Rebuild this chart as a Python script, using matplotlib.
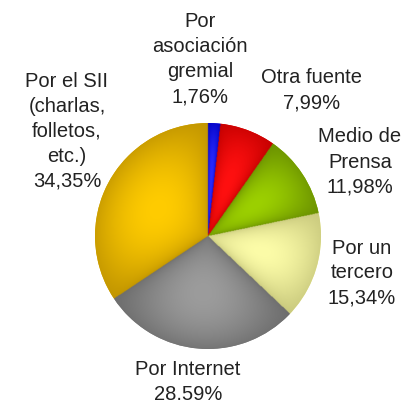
import matplotlib
matplotlib.use("Agg")
import matplotlib.pyplot as plt
import matplotlib.colors as mcolors
import numpy as np

# ── Data ─────────────────────────────────────────────────────────────────────
labels = ["Por\nasociación\ngremial", "Otra fuente", "Medio de\nPrensa",
          "Por un\ntercero", "Por Internet", "Por el SII\n(charlas,\nfolletos,\netc.)"]
pct_text = ["1,76%", "7,99%", "11,98%", "15,34%", "28.59%", "34,35%"]
values = [1.76, 7.99, 11.98, 15.34, 28.59, 34.35]
colors = ["#1616e8", "#e80000", "#8cbc00", "#eeee96", "#8a8a8a", "#dcac00"]
# highlight / edge tones for the shaded look
peak = ["#2a2aff", "#ff1010", "#9cd000", "#fcfca8", "#9c9c9c", "#ffcc00"]
edge = ["#0000c0", "#c40000", "#6a9000", "#c8c87c", "#6c6c6c", "#c09400"]

# label anchor positions (figure pixels, y measured from top)
label_pos = [(200, 59), (312, 90), (360, 162), (362, 273), (188, 382), (67, 131)]

W, H = 406, 405
CX, CY, R = 208, H - 236, 113

fig = plt.figure(figsize=(W / 100, H / 100), dpi=100)
ax = fig.add_axes([0, 0, 1, 1])

wedges, _ = ax.pie(values, colors=colors, startangle=90, counterclock=False,
                   center=(CX, CY), radius=R, frame=True,
                   wedgeprops={"linewidth": 0})

# ── shading overlay ──────────────────────────────────────────────────────────
n = 400
xs = np.linspace(CX - R, CX + R, n)
ys = np.linspace(CY - R, CY + R, n)
X, Y = np.meshgrid(xs, ys)
dx, dy = X - CX, Y - CY
rr = np.hypot(dx, dy) / R
theta = (90 - np.degrees(np.arctan2(dy, dx))) % 360
bounds = np.concatenate([[0], np.cumsum(values) / np.sum(values) * 360])
idx = np.clip(np.searchsorted(bounds, theta, side="right") - 1, 0, len(values) - 1)
t = (theta - bounds[idx]) / (bounds[idx + 1] - bounds[idx])
g = np.sqrt(np.clip(np.sin(np.pi * t), 0, 1)) * (1 - 0.8 * ((rr - 0.5) / 0.5) ** 2)
g = np.clip(g, 0, 1)
pk = np.array([mcolors.to_rgb(c) for c in peak])
ed = np.array([mcolors.to_rgb(c) for c in edge])
img = ed[idx] + (pk[idx] - ed[idx]) * g[..., None]
im = ax.imshow(img, origin="lower", extent=(CX - R, CX + R, CY - R, CY + R),
               interpolation="bilinear", zorder=1.5)
clip = plt.Circle((CX, CY), R, transform=ax.transData)
im.set_clip_path(clip)

ax.set_xlim(0, W)
ax.set_ylim(0, H)
ax.set_aspect("equal")
ax.axis("off")

for lab, pt, (px, py) in zip(labels, pct_text, label_pos):
    ax.text(px, H - py, f"{lab}\n{pt}", ha="center", va="center",
            fontsize=14.5, family="Liberation Sans", color="#222222",
            linespacing=1.4, zorder=3)

fig.savefig("out.png", dpi=100)
